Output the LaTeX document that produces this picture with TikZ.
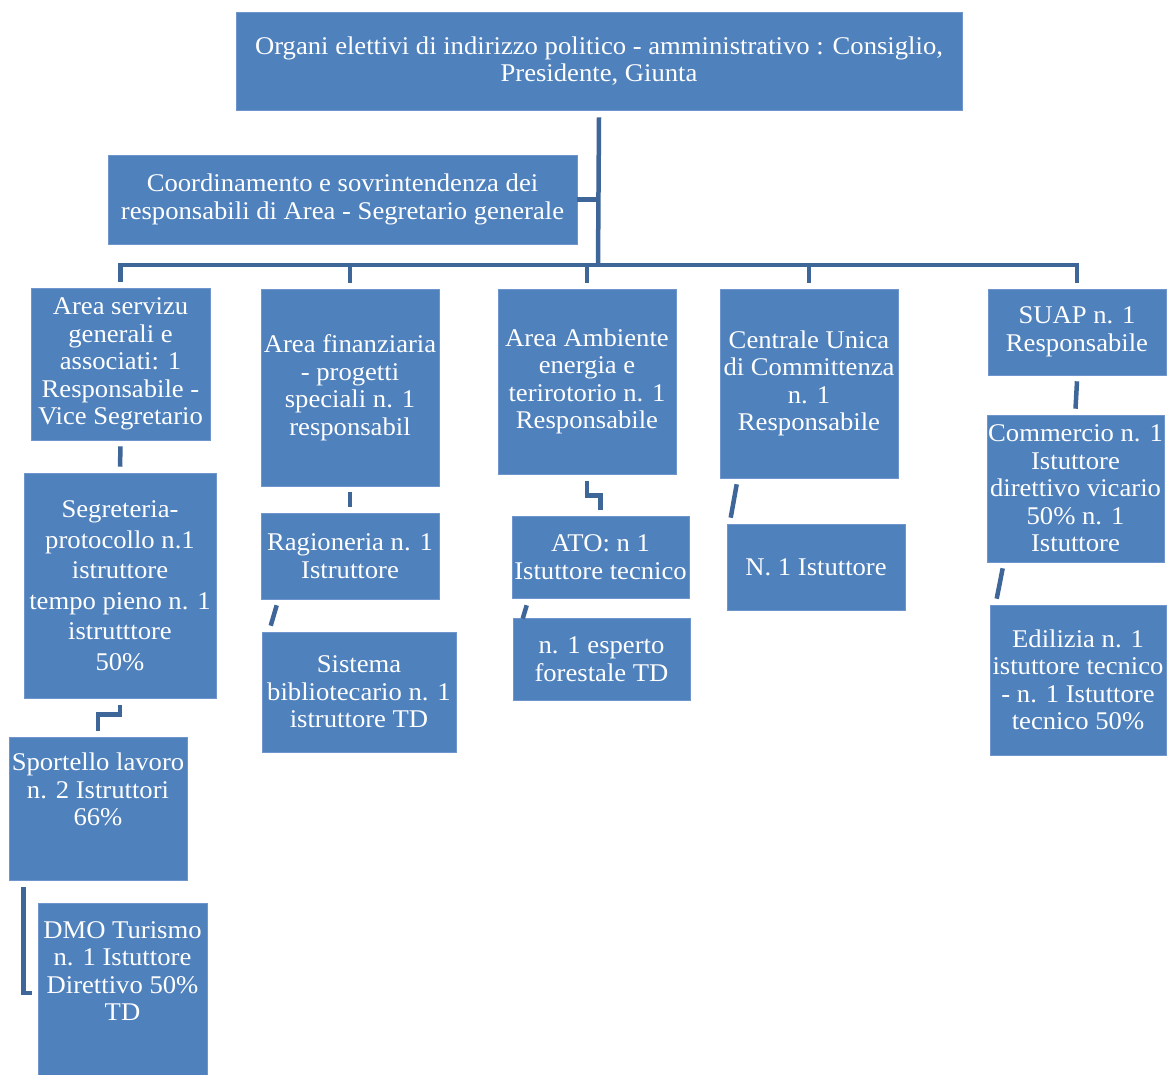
\documentclass[tikz,border=0pt]{standalone}
\usepackage{fontspec}
\setmainfont[FakeStretch=1.045]{Liberation Serif}
\definecolor{boxblue}{RGB}{79,129,189}
\definecolor{boxedge}{RGB}{110,150,205}
\definecolor{connblue}{RGB}{63,102,152}
\tikzset{
  orgbox/.style={rectangle, fill=boxblue, draw=boxedge, line width=0.6pt, text=white,
    inner sep=0pt, align=center, font=\fontsize{25.5}{27.5}\selectfont},
  conn/.style={draw=connblue, line width=4.5pt},
}
\newcommand{\upshift}[2]{\raisebox{#1}[\height][\depth]{\begin{tabular}{@{}c@{}}#2\end{tabular}}}
\begin{document}
\begin{tikzpicture}[x=1pt,y=-1pt]
\useasboundingbox[fill=white] (0,0) rectangle (1167,1075);

\node[orgbox, minimum width=726pt, minimum height=98pt] (top) at (599,61)
  {Organi elettivi di indirizzo politico - amministrativo : Consiglio,\\Presidente, Giunta};
\node[orgbox, minimum width=469pt, minimum height=89pt] (coord) at (342.5,199.5)
  {Coordinamento e sovrintendenza dei\\responsabili di Area - Segretario generale};

\node[orgbox, minimum width=179pt, minimum height=152pt] (a1) at (120.5,364)
  {Area servizu\\generali e\\associati: 1\\Responsabile -\\Vice Segretario};
\node[orgbox, minimum width=178pt, minimum height=197pt] (a2) at (350,387.5)
  {Area finanziaria\\- progetti\\speciali n. 1\\responsabil};
\node[orgbox, minimum width=178pt, minimum height=185pt] (a3) at (587,381.5)
  {Area Ambiente\\energia e\\terirotorio n. 1\\Responsabile};
\node[orgbox, minimum width=178pt, minimum height=189pt] (a4) at (809,383.5)
  {Centrale Unica\\di Committenza\\n. 1\\Responsabile};
\node[orgbox, minimum width=178pt, minimum height=86pt] (a5) at (1077,332)
  {SUAP n. 1\\Responsabile};

\node[orgbox, minimum width=192pt, minimum height=225pt, font=\fontsize{25.5}{30.5}\selectfont] (b1) at (120,585.5)
  {Segreteria-\\protocollo n.1\\istruttore\\tempo pieno n. 1\\istrutttore\\50\%};
\node[orgbox, minimum width=178pt, minimum height=143pt] (b2) at (98,808.5)
  {\upshift{16pt}{Sportello lavoro\\n. 2 Istruttori\\66\%}};
\node[orgbox, minimum width=169pt, minimum height=172pt] (dmo) at (122.5,989)
  {\upshift{15pt}{DMO Turismo\\n. 1 Istuttore\\Direttivo 50\%\\TD}};

\node[orgbox, minimum width=178pt, minimum height=86pt] (b3) at (350,556)
  {Ragioneria n. 1\\Istruttore};
\node[orgbox, minimum width=194pt, minimum height=120pt] (b4) at (359,692)
  {Sistema\\bibliotecario n. 1\\istruttore TD};

\node[orgbox, minimum width=177pt, minimum height=82pt] (b5) at (600.5,557)
  {ATO: n 1\\Istuttore tecnico};
\node[orgbox, minimum width=177pt, minimum height=82pt] (b6) at (601.5,659)
  {n. 1 esperto\\forestale TD};

\node[orgbox, minimum width=178pt, minimum height=86pt] (b7) at (816,567)
  {N. 1 Istuttore};

\node[orgbox, minimum width=177pt, minimum height=147pt] (b8) at (1075.5,488.5)
  {Commercio n. 1\\Istuttore\\direttivo vicario\\50\% n. 1\\Istuttore};
\node[orgbox, minimum width=176pt, minimum height=150pt] (b9) at (1078,680)
  {Edilizia n. 1\\istuttore tecnico\\- n. 1 Istuttore\\tecnico 50\%};

% bus
\coordinate (bus) at (598,265);
\draw[conn] ([yshift=-7pt]top.south) -- (bus);
\draw[conn] (coord.east) -- (coord.east -| bus);
\draw[conn] ([yshift=6pt]a1.north) |- (bus);
\draw[conn] ([yshift=6pt]a2.north) |- (bus);
\draw[conn] ([yshift=6pt]a3.north) |- (bus);
\draw[conn] ([yshift=6pt]a4.north) |- (bus);
\draw[conn] ([yshift=6pt]a5.north) |- (bus);

% column 1
\draw[conn] ([yshift=-6pt]a1.south) -- ([yshift=6pt]b1.north);
\draw[conn] ([yshift=-7pt]b1.south) -- ++(0,9) -| ([yshift=6pt]b2.north);
\draw[conn] ([xshift=15pt,yshift=-7pt]b2.south west) |- ([xshift=-6pt,yshift=-4pt]dmo.west);

% column 2
\draw[conn] ([yshift=-6pt]a2.south) -- ([yshift=6pt]b3.north);
\draw[conn] ([xshift=16pt,yshift=-6pt]b3.south west) -- ([xshift=9pt,yshift=6pt]b4.north west);

% column 3
\draw[conn] ([yshift=-7pt]a3.south) -- ++(0,14) -| ([yshift=6pt]b5.north);
\draw[conn] ([xshift=15pt,yshift=-7pt]b5.south west) -- ([xshift=11pt,yshift=-1pt]b5.south west |- b6.north);

% column 4
\draw[conn] ([xshift=17pt,yshift=-6pt]a4.south west) -- ([xshift=4pt,yshift=6pt]b7.north west);

% column 5
\draw[conn] ([yshift=-6pt]a5.south) -- ([yshift=6pt]b8.north);
\draw[conn] ([xshift=16pt,yshift=-6pt]b8.south west) -- ([xshift=7pt,yshift=6pt]b9.north west);
\end{tikzpicture}
\end{document}
